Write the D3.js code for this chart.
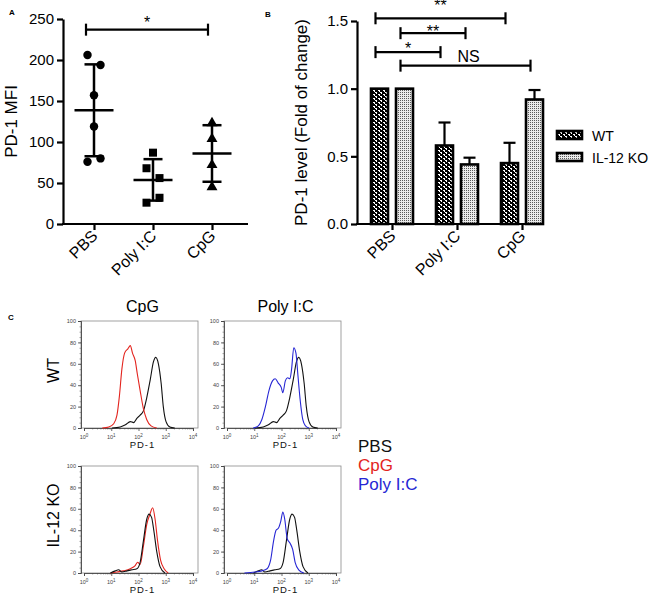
<!DOCTYPE html>
<html><head><meta charset="utf-8">
<script src="https://cdn.jsdelivr.net/npm/d3@7"></script>
<style>
body{margin:0;background:#fff}
text{font-family:"Liberation Sans",Arial,sans-serif}
</style>
</head><body>
<svg id="c" width="650" height="599"></svg>
<script>
// ---------- Panel A data ----------
const aCategories = ["PBS", "Poly I:C", "CpG"];
const aPBS = [206, 194, 157, 119, 76, 80];
const aPolyIC = [87, 68, 56, 26, 32];
const aCpG = [123, 104, 72, 45];
const aTicks = [0, 50, 100, 150, 200, 250];
const aSigPair = ["PBS", "CpG"];
const aSigLevel = 237;
const aSigLabelLevel = 250;
const aSigLabel = "*";

// ---------- Panel B data ----------
const bCategories = ["PBS", "Poly I:C", "CpG"];
const bSeries = ["WT", "IL-12 KO"];
const bWT = [1.0, 0.58, 0.45];
const bWTerr = [0, 0.17, 0.15];
const bKO = [1.0, 0.44, 0.92];
const bKOerr = [0, 0.05, 0.07];
const bTicks = [0, 0.5, 1.0, 1.5];
const bSigFrom = [["PBS","WT"], ["PBS","IL-12 KO"], ["PBS","WT"], ["PBS","IL-12 KO"]];
const bSigTo = [["CpG","WT"], ["Poly I:C","IL-12 KO"], ["Poly I:C","WT"], ["CpG","IL-12 KO"]];
const bSigLevels = [1.52, 1.41, 1.27, 1.17];
const bSigLabels = ["**", "**", "*", "NS"];
const bSigLabelLevels = [1.64, 1.45, 1.32, 1.245];

// ---------- Panel C data (x = log10 PD-1, y = % of max) ----------
const histTicksY = [0, 20, 40, 60, 80, 100];
const histDecades = [0, 1, 2, 3, 4];
const wtPBS = [[1.03,0],[1.33,1],[1.52,3],[1.70,6],[1.82,5],[1.94,9],[2.06,12],[2.18,16],[2.30,28],[2.43,45],[2.55,62],[2.63,66],[2.73,60],[2.83,42],[2.91,20],[3.01,6],[3.15,1],[3.33,0]];
const wtCpG = [[0.67,0],[0.91,1],[1.09,4],[1.21,12],[1.30,30],[1.39,55],[1.49,70],[1.61,74],[1.70,77],[1.78,70],[1.88,63],[1.96,50],[2.06,35],[2.18,18],[2.30,8],[2.46,2],[2.67,0]];
const wtPoly = [[0.96,0],[1.15,2],[1.28,8],[1.41,20],[1.54,35],[1.67,44],[1.77,46],[1.88,42],[1.99,38],[2.05,33],[2.14,44],[2.22,47],[2.31,46],[2.37,55],[2.45,75],[2.53,70],[2.60,50],[2.69,25],[2.78,8],[2.88,2],[3.01,0]];
const koPBS = [[0.97,0],[1.15,2],[1.27,3],[1.39,1],[1.58,2],[1.76,3],[1.94,4],[2.06,10],[2.18,30],[2.30,50],[2.39,55],[2.48,52],[2.56,40],[2.67,20],[2.79,6],[2.97,0]];
const koCpG = [[0.97,0],[1.21,1],[1.45,2],[1.70,4],[1.88,7],[1.97,10],[2.06,8],[2.18,25],[2.30,45],[2.42,55],[2.52,61],[2.61,50],[2.70,30],[2.81,12],[2.94,4],[3.09,0]];
const koPoly = [[0.64,0],[1.03,1],[1.28,2],[1.47,4],[1.60,12],[1.71,30],[1.80,40],[1.89,42],[1.97,48],[2.05,57],[2.12,50],[2.21,32],[2.31,28],[2.41,22],[2.50,10],[2.63,3],[2.82,0]];
const cColumns = ["CpG", "Poly I:C"];
const cRows = ["WT", "IL-12 KO"];
const cLegend = ["PBS", "CpG", "Poly I:C"];

// ---------- drawing ----------
const svg = d3.select("#c");
svg.append("rect").attr("width",650).attr("height",599).attr("fill","#fff");
const FONT = '"Liberation Sans",Arial,sans-serif';

const defs = svg.append("defs");
const pW = defs.append("pattern").attr("id","pWT").attr("patternUnits","userSpaceOnUse")
  .attr("width",5).attr("height",4);
pW.append("rect").attr("width",5).attr("height",4).attr("fill","#000");
pW.append("rect").attr("x",0).attr("y",0).attr("width",2).attr("height",1).attr("fill","#fff");
pW.append("rect").attr("x",1).attr("y",1).attr("width",1).attr("height",1).attr("fill","#fff");
pW.append("rect").attr("x",3).attr("y",2).attr("width",2).attr("height",1).attr("fill","#fff");
pW.append("rect").attr("x",4).attr("y",3).attr("width",1).attr("height",1).attr("fill","#fff");
const pK = defs.append("pattern").attr("id","pKO").attr("patternUnits","userSpaceOnUse")
  .attr("width",2).attr("height",2);
pK.append("rect").attr("width",2).attr("height",2).attr("fill","#ebebeb");
pK.append("rect").attr("width",1).attr("height",1).attr("fill","#5a5a5a");

function styleAxis(g, sw, fs){
  g.selectAll("path,line").attr("stroke","#000").attr("stroke-width",sw);
  g.selectAll("text").attr("font-family",FONT).attr("font-size",fs).attr("fill","#000");
}

// ===== Panel A =====
{
  const y = d3.scaleLinear().domain([0,250]).range([224,19]);
  const x = d3.scalePoint().domain(aCategories).range([94,212]);
  const left = 63, right = 248;
  const gy = svg.append("g").attr("transform",`translate(${left},0)`)
    .call(d3.axisLeft(y).tickValues(aTicks).tickSize(6).tickSizeOuter(0).tickPadding(3));
  styleAxis(gy, 2.2, 15);
  svg.append("line").attr("x1",left-1).attr("x2",right).attr("y1",y(0)).attr("y2",y(0))
    .attr("stroke","#000").attr("stroke-width",2.2);
  const gx = svg.append("g").attr("transform",`translate(0,${y(0)})`)
    .call(d3.axisBottom(x).tickSize(6).tickSizeOuter(0));
  gx.select(".domain").remove();
  styleAxis(gx, 2.2, 16);
  gx.selectAll("text").attr("text-anchor","end").attr("dy",null).attr("y",null)
    .attr("transform","translate(4,13) rotate(-45)");

  svg.append("text").attr("transform",`translate(17,${(y(0)+y(250))/2}) rotate(-90)`)
    .attr("text-anchor","middle").attr("font-size",17).attr("font-family",FONT).text("PD-1 MFI");
  svg.append("text").attr("x",9).attr("y",15).attr("font-size",8).attr("font-weight","bold")
    .attr("font-family",FONT).text("A");

  const groups = [aPBS, aPolyIC, aCpG];
  const shapes = [d3.symbolCircle, d3.symbolSquare, d3.symbolTriangle];
  const sizes = [56, 64, 52];
  groups.forEach((vals, gi) => {
    const cx = x(aCategories[gi]);
    const offs = vals.map(()=>0);
    for (let i=0;i<vals.length-1;i++){
      if (offs[i]===0 && Math.abs(y(vals[i])-y(vals[i+1]))<11){ offs[i]=-6.5; offs[i+1]=6.5; i++; }
    }
    const m = d3.mean(vals), sd = d3.deviation(vals);
    const g = svg.append("g");
    g.append("line").attr("x1",cx).attr("x2",cx).attr("y1",y(m-sd)).attr("y2",y(m+sd))
      .attr("stroke","#000").attr("stroke-width",2.5);
    [m-sd, m+sd].forEach(v => g.append("line").attr("x1",cx-9.5).attr("x2",cx+9.5)
      .attr("y1",y(v)).attr("y2",y(v)).attr("stroke","#000").attr("stroke-width",2.5));
    g.append("line").attr("x1",cx-19.5).attr("x2",cx+19.5).attr("y1",y(m)).attr("y2",y(m))
      .attr("stroke","#000").attr("stroke-width",2.5);
    vals.forEach((v,i)=>{
      g.append("path").attr("d",d3.symbol().type(shapes[gi]).size(sizes[gi])())
        .attr("transform",`translate(${cx+offs[i]},${y(v)})`).attr("fill","#000");
    });
  });
  const x1 = x(aSigPair[0]) - 8, x2 = x(aSigPair[1]) - 4, sy = y(aSigLevel);
  const sg = svg.append("g").attr("stroke","#000").attr("stroke-width",2.2);
  sg.append("line").attr("x1",x1).attr("x2",x2).attr("y1",sy).attr("y2",sy);
  [x1,x2].forEach(xx=>sg.append("line").attr("x1",xx).attr("x2",xx).attr("y1",sy-6).attr("y2",sy+6));
  svg.append("text").attr("x",(x1+x2)/2).attr("y",y(aSigLabelLevel)+9).attr("text-anchor","middle")
    .attr("font-size",16).attr("font-family",FONT).text(aSigLabel);
}

// ===== Panel B =====
{
  const y = d3.scaleLinear().domain([0,1.5]).range([224,21]);
  const x0 = d3.scalePoint().domain(bCategories).range([392,522]);
  const x1 = d3.scaleBand().domain(bSeries).range([-21,21]).paddingInner(0.32);
  const left = 357, right = 543;
  const gy = svg.append("g").attr("transform",`translate(${left},0)`)
    .call(d3.axisLeft(y).tickValues(bTicks).tickFormat(d3.format(".1f")).tickSize(6).tickSizeOuter(0).tickPadding(3));
  styleAxis(gy, 2.2, 15);
  svg.append("line").attr("x1",left-1).attr("x2",right).attr("y1",y(0)).attr("y2",y(0))
    .attr("stroke","#000").attr("stroke-width",2.2);
  const gx = svg.append("g").attr("transform",`translate(0,${y(0)})`)
    .call(d3.axisBottom(x0).tickSize(6).tickSizeOuter(0));
  gx.select(".domain").remove();
  styleAxis(gx, 2.2, 16);
  gx.selectAll("text").attr("text-anchor","end").attr("dy",null).attr("y",null)
    .attr("transform","translate(4,13) rotate(-45)");

  svg.append("text").attr("transform",`translate(307,${(y(0)+y(1.5))/2}) rotate(-90)`)
    .attr("text-anchor","middle").attr("font-size",17).attr("font-family",FONT)
    .text("PD-1 level (Fold of change)");
  svg.append("text").attr("x",265).attr("y",17).attr("font-size",8).attr("font-weight","bold")
    .attr("font-family",FONT).text("B");

  const series = [[bWT,bWTerr,"url(#pWT)"],[bKO,bKOerr,"url(#pKO)"]];
  const bw = x1.bandwidth();
  const cx = (cat, s) => x0(cat) + x1(s) + bw/2;
  series.forEach(([vals, errs, fill], si) => {
    const s = bSeries[si];
    vals.forEach((v,i)=>{
      const c = bCategories[i];
      const xx = x0(c)+x1(s);
      if (errs[i] > 0){
        svg.append("line").attr("x1",xx+bw/2).attr("x2",xx+bw/2).attr("y1",y(v)).attr("y2",y(v+errs[i]))
          .attr("stroke","#000").attr("stroke-width",2.2);
        svg.append("line").attr("x1",xx+bw/2-6).attr("x2",xx+bw/2+6).attr("y1",y(v+errs[i])).attr("y2",y(v+errs[i]))
          .attr("stroke","#000").attr("stroke-width",2.2);
      }
      svg.append("rect").attr("x",xx).attr("y",y(v)).attr("width",bw).attr("height",y(0)-y(v))
        .attr("fill",fill).attr("stroke","#000").attr("stroke-width",2.6);
    });
  });
  bSigLevels.forEach((lv,i)=>{
    const xa = cx(bSigFrom[i][0], bSigFrom[i][1]) - 4, xb = cx(bSigTo[i][0], bSigTo[i][1]) - 4;
    const sy = y(lv);
    const g = svg.append("g").attr("stroke","#000").attr("stroke-width",2.2);
    g.append("line").attr("x1",xa).attr("x2",xb).attr("y1",sy).attr("y2",sy);
    [xa,xb].forEach(xx=>g.append("line").attr("x1",xx).attr("x2",xx).attr("y1",sy-6).attr("y2",sy+6));
    const isStar = bSigLabels[i].indexOf("*")>=0;
    svg.append("text").attr("x",isStar ? (xa+xb)/2 : (xa+xb)/2+3)
      .attr("y",y(bSigLabelLevels[i]) + (isStar?9:6))
      .attr("text-anchor","middle").attr("font-size",16).attr("font-family",FONT).text(bSigLabels[i]);
  });
  const lg = svg.append("g");
  [["url(#pWT)","WT"],["url(#pKO)","IL-12 KO"]].forEach(([f,t],i)=>{
    const yy = 131 + i*22;
    lg.append("rect").attr("x",557).attr("y",yy).attr("width",25).attr("height",8)
      .attr("fill",f).attr("stroke","#000").attr("stroke-width",2.6);
    lg.append("text").attr("x",592).attr("y",yy+9.5).attr("font-size",14).attr("font-family",FONT).text(t);
  });
}

// ===== Panel C =====
{
  const hw = 117, hh = 107;
  const colX = [81, 224], rowY = [321, 466];
  const colors = {"PBS":"#111111","CpG":"#e3241e","Poly I:C":"#2626d4"};
  const panels = [
    {c:0,r:0,curves:[["PBS",wtPBS],["CpG",wtCpG]]},
    {c:1,r:0,curves:[["PBS",wtPBS],["Poly I:C",wtPoly]]},
    {c:0,r:1,curves:[["CpG",koCpG],["PBS",koPBS]]},
    {c:1,r:1,curves:[["PBS",koPBS],["Poly I:C",koPoly]]}
  ];
  const hx = d3.scaleLinear().domain([0,4]).range([3,hw-5]);
  const hy = d3.scaleLinear().domain([0,100]).range([hh,0]);
  const line = d3.line().x(d=>hx(d[0])).y(d=>hy(d[1])).curve(d3.curveMonotoneX);
  const minorX = [];
  for (let d=0; d<4; d++) for (let k=2;k<10;k++) minorX.push(d+Math.log10(k));
  const minorY = d3.range(0,101,5);

  panels.forEach(p=>{
    const g = svg.append("g").attr("transform",`translate(${colX[p.c]},${rowY[p.r]})`);
    g.append("rect").attr("width",hw).attr("height",hh).attr("fill","none").attr("stroke","#8a8a8a").attr("stroke-width",0.8);
    const ml = g.append("g").call(d3.axisLeft(hy).tickValues(minorY).tickSize(1.5).tickFormat(""));
    ml.selectAll("path,line").attr("stroke","#666").attr("stroke-width",0.6);
    const mb = g.append("g").attr("transform",`translate(0,${hh})`).call(d3.axisBottom(hx).tickValues(minorX).tickSize(1.5).tickFormat(""));
    mb.selectAll("path,line").attr("stroke","#666").attr("stroke-width",0.6);
    const al = g.append("g").call(d3.axisLeft(hy).tickValues(histTicksY).tickSize(3).tickPadding(2));
    al.selectAll("path,line").attr("stroke","#444").attr("stroke-width",0.8);
    al.selectAll("text").attr("font-size",5.5).attr("fill","#444").attr("font-family","DejaVu Sans");
    const ab = g.append("g").attr("transform",`translate(0,${hh})`).call(d3.axisBottom(hx).tickValues(histDecades).tickSize(3).tickFormat(""));
    ab.selectAll("path,line").attr("stroke","#444").attr("stroke-width",0.8);
    histDecades.forEach(d=>{
      const t = g.append("text").attr("x",hx(d)).attr("y",hh+11).attr("text-anchor","middle")
        .attr("font-size",5.5).attr("fill","#444").attr("font-family","DejaVu Sans");
      t.append("tspan").text("10");
      t.append("tspan").attr("dy",-2.5).attr("font-size",4.5).text(d);
    });
    g.append("text").attr("x",hw/2+3).attr("y",hh+20).attr("text-anchor","middle").attr("font-size",9.5)
      .attr("letter-spacing",1).attr("font-family","DejaVu Sans").attr("fill","#111").text("PD-1");
    p.curves.forEach(([name,data])=>{
      g.append("path").attr("d",line(data)).attr("fill","none").attr("stroke",colors[name])
        .attr("stroke-width",1.1).attr("stroke-linejoin","round");
    });
  });
  cColumns.forEach((t,i)=>{
    svg.append("text").attr("x",colX[i]+hw/2+3).attr("y",312).attr("text-anchor","middle")
      .attr("font-size",16).attr("font-family",FONT).text(t);
  });
  cRows.forEach((t,i)=>{
    svg.append("text").attr("transform",`translate(59,${rowY[i]+hh/2-4}) rotate(-90)`)
      .attr("text-anchor","middle").attr("font-size",16).attr("font-family",FONT).text(t);
  });
  cLegend.forEach((t,i)=>{
    svg.append("text").attr("x",358).attr("y",452+i*19).attr("font-size",17).attr("font-family",FONT)
      .attr("fill",colors[t]).text(t);
  });
  svg.append("text").attr("x",8).attr("y",320).attr("font-size",8).attr("font-weight","bold")
    .attr("font-family",FONT).text("C");
}
</script>
</body></html>
